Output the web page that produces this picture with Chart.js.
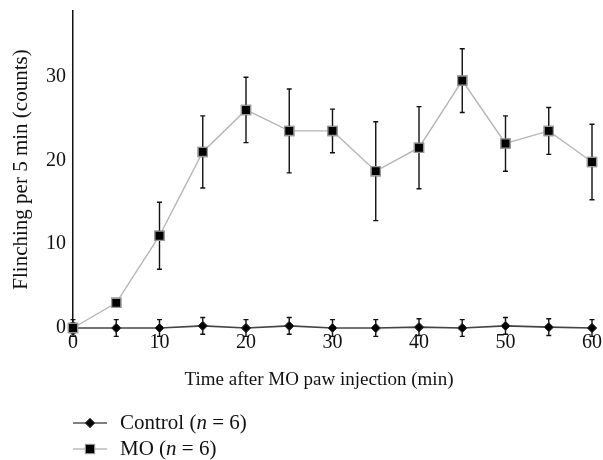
<!DOCTYPE html>
<html>
<head>
<meta charset="utf-8">
<script src="https://cdn.jsdelivr.net/npm/chart.js@4"></script>
<style>
  html, body { margin: 0; padding: 0; background: #fff; }
  #wrap { width: 603px; height: 460px; position: relative; }
</style>
</head>
<body>
<div id="wrap"><canvas id="flinchChart"></canvas></div>
<script>
// time points (min)
const times = [0, 5, 10, 15, 20, 25, 30, 35, 40, 45, 50, 55, 60];
// MO group mean and error
const moMean = [0, 3, 11, 21, 26, 23.5, 23.5, 18.7, 21.5, 29.5, 22, 23.5, 19.8];
const moErr  = [0.6, 0, 4, 4.3, 3.9, 5, 2.6, 5.9, 4.9, 3.8, 3.3, 2.8, 4.5];
// control group mean and error
const ctrlMean = [0, 0, 0, 0.25, 0, 0.25, 0, 0, 0.1, 0, 0.25, 0.1, 0];
const ctrlErr  = [1, 1, 1, 1, 1, 1, 1, 1, 1, 1, 1, 1, 1];
const xTicks = [0, 10, 20, 30, 40, 50, 60];
const yTicks = [0, 10, 20, 30];
const xTitle = 'Time after MO paw injection (min)';
const yTitle = 'Flinching per 5 min (counts)';

const serif = '"Liberation Serif", "DejaVu Serif", serif';

// draws vertical error bars with caps
const errorBars = {
  id: 'errorBars',
  afterDatasetsDraw(chart) {
    const { ctx, scales: { x, y } } = chart;
    ctx.save();
    ctx.strokeStyle = '#111';
    ctx.lineWidth = 1.4;
    chart.data.datasets.forEach(ds => {
      ds.data.forEach((p, i) => {
        const e = ds.errors[i];
        if (!e) return;
        const px = x.getPixelForValue(p.x);
        const top = y.getPixelForValue(p.y + e);
        const bot = y.getPixelForValue(p.y - e);
        ctx.beginPath();
        ctx.moveTo(px, top); ctx.lineTo(px, bot);
        ctx.moveTo(px - 2.5, top); ctx.lineTo(px + 2.5, top);
        ctx.moveTo(px - 2.5, bot); ctx.lineTo(px + 2.5, bot);
        ctx.stroke();
      });
    });
    ctx.restore();
  },
  // redraw markers on top of the bars
  afterDraw(chart) {
    chart.data.datasets.forEach((ds, di) => {
      chart.getDatasetMeta(di).data.forEach(pt => pt.draw(chart.ctx));
    });
  }
};

// x title (sits a little left of centre) and legend with italic "n"
const legendItems = [
  { name: 'Control', line: '#555', style: 'rectRot', r: 4.5, border: '#333' },
  { name: 'MO', line: '#bbb', style: 'rect', r: 6.5, border: '#999' }
];
const customText = {
  id: 'customText',
  afterDraw(chart) {
    const ctx = chart.ctx;
    ctx.save();
    ctx.fillStyle = '#111';
    ctx.textBaseline = 'middle';
    ctx.textAlign = 'center';
    ctx.font = '19px ' + serif;
    ctx.fillText(xTitle, 319, 380);
    ctx.textAlign = 'left';
    legendItems.forEach((it, i) => {
      const cy = 423 + i * 26;
      ctx.strokeStyle = it.line;
      ctx.lineWidth = 1.5;
      ctx.beginPath(); ctx.moveTo(73, cy); ctx.lineTo(107, cy); ctx.stroke();
      ctx.fillStyle = '#000';
      ctx.strokeStyle = it.border;
      ctx.lineWidth = 1;
      Chart.helpers.drawPoint(ctx, { pointStyle: it.style, radius: it.r, borderWidth: 1 }, 90, cy);
      ctx.fill(); ctx.stroke();
      ctx.fillStyle = '#111';
      let tx = 120;
      const parts = [[it.name + ' (', ''], ['n', 'italic '], [' = 6)', '']];
      parts.forEach(([t, st]) => {
        ctx.font = st + '21px ' + serif;
        ctx.fillText(t, tx, cy);
        tx += ctx.measureText(t).width;
      });
    });
    ctx.restore();
  }
};

new Chart(document.getElementById('flinchChart'), {
  type: 'line',
  data: {
    datasets: [
      {
        label: 'Control (n = 6)',
        data: times.map((t, i) => ({ x: t, y: ctrlMean[i] })),
        errors: ctrlErr,
        borderColor: '#444',
        borderWidth: 1.6,
        pointStyle: 'rectRot',
        pointRadius: 4.5,
        pointBackgroundColor: '#000',
        pointBorderColor: '#333',
        pointBorderWidth: 1,
        tension: 0,
        clip: false
      },
      {
        label: 'MO (n = 6)',
        data: times.map((t, i) => ({ x: t, y: moMean[i] })),
        errors: moErr,
        borderColor: '#b5b5b5',
        borderWidth: 1.4,
        pointStyle: 'rect',
        pointRadius: 6.5,
        pointBackgroundColor: '#000',
        pointBorderColor: '#999',
        pointBorderWidth: 1.3,
        tension: 0,
        clip: false
      }
    ]
  },
  options: {
    responsive: true,
    maintainAspectRatio: false,
    animation: false,
    layout: { padding: { top: 11, right: 11, bottom: 66, left: 0 } },
    plugins: { legend: { display: false }, tooltip: { enabled: false } },
    scales: {
      x: {
        type: 'linear',
        min: 0, max: 60,
        afterBuildTicks: s => { s.ticks = xTicks.map(v => ({ value: v })); },
        afterFit: s => { s.height = 66; s.paddingLeft = 0; s.paddingRight = 0; },
        grid: { display: false, drawTicks: false },
        border: { display: false },
        ticks: { color: '#111', padding: 3, maxRotation: 0, font: { family: serif, size: 20 } },
        title: { display: false }
      },
      y: {
        min: 0, max: 37.8,
        afterBuildTicks: s => { s.ticks = yTicks.map(v => ({ value: v })); },
        afterFit: s => { s.width = 73; s.paddingTop = 0; s.paddingBottom = 0; },
        grid: { display: false, drawTicks: false },
        border: { display: true, color: '#111', width: 1.5 },
        ticks: { color: '#111', padding: 7, font: { family: serif, size: 20 } },
        title: { display: true, text: yTitle, color: '#111', padding: { top: 9, bottom: 0 }, font: { family: serif, size: 21 } }
      }
    }
  },
  plugins: [errorBars, customText]
});
</script>
</body>
</html>
